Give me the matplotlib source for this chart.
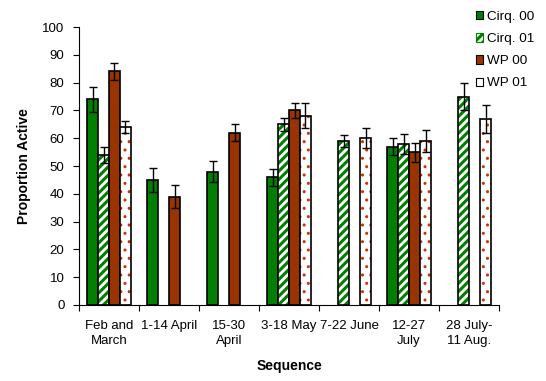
import numpy as np
import matplotlib
matplotlib.use("Agg")
import matplotlib.pyplot as plt
from matplotlib.patches import Patch

plt.rcParams['font.family'] = ['Liberation Sans', 'DejaVu Sans']
plt.rcParams['hatch.linewidth'] = 2.2

categories = ["Feb and\nMarch", "1-14 April", "15-30\nApril", "3-18 May",
              "7-22 June", "12-27\nJuly", "28 July-\n11 Aug."]
series_names = ["Cirq. 00", "Cirq. 01", "WP 00", "WP 01"]
nan = np.nan
cirq00 = [74, 45, 48, 46, nan, 57, nan]
cirq00_err = [4.5, 4.3, 3.8, 3.1, nan, 2.9, nan]
cirq01 = [54, nan, nan, 65, 59, 58, 75]
cirq01_err = [2.9, nan, nan, 2.3, 2.0, 3.6, 5.0]
wp00 = [84, 39, 62, 70, nan, 55, nan]
wp00_err = [3.2, 4.0, 3.0, 2.6, nan, 3.4, nan]
wp01 = [64, nan, nan, 68, 60, 59, 67]
wp01_err = [2.2, nan, nan, 4.5, 3.6, 3.8, 5.0]

green = "#007F00"
brown = "#993300"

fig = plt.figure(figsize=(5.46, 3.81), dpi=100)
ax = fig.add_axes([0.1447, 0.1995, 0.7693, 0.7296])

x = np.arange(len(categories))
w = 0.183
offsets = np.array([-1.5, -0.5, 0.5, 1.5]) * w
values = [cirq00, cirq01, wp00, wp01]
errs = [cirq00_err, cirq01_err, wp00_err, wp01_err]

for i, (v, e) in enumerate(zip(values, errs)):
    v = np.array(v, dtype=float)
    e = np.array(e, dtype=float)
    xs = x + offsets[i]
    if i == 0:
        ax.bar(xs, v, w, color=green, edgecolor='black', linewidth=1.2, zorder=2)
    elif i == 2:
        ax.bar(xs, v, w, color=brown, edgecolor='black', linewidth=1.2, zorder=2)
    elif i == 1:
        ax.bar(xs, v, w, color='white', edgecolor=green, hatch='////', linewidth=0, zorder=2)
        ax.bar(xs, v, w, color='none', edgecolor='black', linewidth=1.2, zorder=3)
    else:
        with plt.rc_context({'hatch.linewidth': 1.0}):
            ax.bar(xs, v, w, color='white', edgecolor='#CC3300', hatch='..', linewidth=0, zorder=2)
        ax.bar(xs, v, w, color='none', edgecolor='black', linewidth=1.2, zorder=3)
    ax.errorbar(xs, v, yerr=e, fmt='none', ecolor='black', elinewidth=1,
                capsize=3, capthick=1, zorder=4)

ax.set_ylim(0, 100)
ax.set_xlim(-0.5, len(categories) - 0.5)
ax.set_yticks(np.arange(0, 101, 10))
ax.set_xticks(np.arange(-0.5, len(categories) + 0.5, 1))
ax.set_xticklabels([])
ax.set_xticks(x, minor=True)
ax.set_xticklabels(categories, minor=True)
ax.tick_params(axis='x', which='minor', length=0, pad=11, labelsize=9.5)
ax.tick_params(axis='x', which='major', length=4, direction='out')
ax.tick_params(axis='y', length=4.5, direction='out', labelsize=9.5, pad=6)
for t in ax.get_xticklabels(minor=True):
    t.set_linespacing(1.35)

ax.spines['top'].set_visible(False)
ax.spines['right'].set_visible(False)
ax.set_ylabel("Proportion Active", fontweight='bold', fontsize=10, labelpad=8)
ax.set_xlabel("Sequence", fontweight='bold', fontsize=10, labelpad=8)

handles = [Patch(facecolor=green, edgecolor='black', linewidth=0.8),
           Patch(facecolor='white', edgecolor=green, hatch='////', linewidth=0.8),
           Patch(facecolor=brown, edgecolor='black', linewidth=0.8),
           Patch(facecolor='white', edgecolor='black', linewidth=0.8)]
leg = fig.legend(handles, series_names, loc='upper left', bbox_to_anchor=(0.862, 0.985),
                 frameon=False, fontsize=9.7, handlelength=0.55, handleheight=0.55,
                 handletextpad=0.3, labelspacing=0.75, borderaxespad=0)

fig.savefig("out.png", dpi=100)
